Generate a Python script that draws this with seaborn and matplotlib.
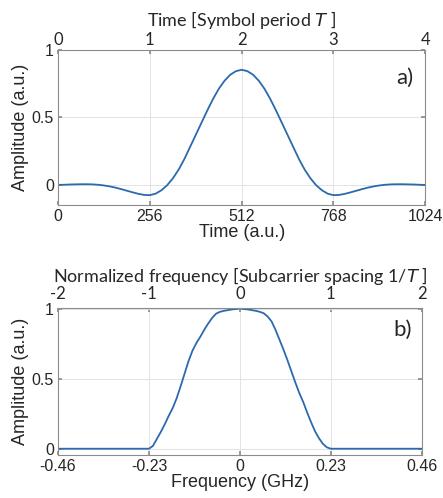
import numpy as np
import pandas as pd
import matplotlib
matplotlib.use("Agg")
import matplotlib.pyplot as plt
import seaborn as sns

# ---- data: panel a (time-domain pulse) ----
time_au = [0, 16, 32, 48, 64, 80, 96, 112, 128, 144, 160, 176, 192, 208, 224, 240,
           256, 272, 288, 304, 320, 336, 352, 368, 384, 400, 416, 432, 448, 464, 480, 496,
           512, 528, 544, 560, 576, 592, 608, 624, 640, 656, 672, 688, 704, 720, 736, 752,
           768, 784, 800, 816, 832, 848, 864, 880, 896, 912, 928, 944, 960, 976, 992, 1008, 1024]
amp_time = [0.000, 0.001, 0.003, 0.004, 0.005, 0.005, 0.004, 0.001, -0.004, -0.011, -0.020,
            -0.031, -0.043, -0.055, -0.066, -0.074, -0.076, -0.065, -0.040, -0.003, 0.048,
            0.112, 0.190, 0.280, 0.370, 0.460, 0.550, 0.635, 0.710, 0.770, 0.815, 0.842,
            0.852,
            0.842, 0.815, 0.770, 0.710, 0.635, 0.550, 0.460, 0.370, 0.280, 0.190, 0.112,
            0.048, -0.003, -0.040, -0.065, -0.076, -0.074, -0.066, -0.055, -0.043, -0.031,
            -0.020, -0.011, -0.004, 0.001, 0.004, 0.005, 0.005, 0.004, 0.003, 0.001, 0.000]

# ---- data: panel b (spectrum) ----
freq_ghz = [-0.46, -0.23, -0.22, -0.21, -0.20, -0.19, -0.18, -0.17, -0.16, -0.15, -0.14,
            -0.13, -0.12, -0.11, -0.10, -0.09, -0.08, -0.07, -0.06, -0.05, -0.04, -0.03,
            -0.02, -0.01, 0.00, 0.01, 0.02, 0.03, 0.04, 0.05, 0.06, 0.07, 0.08, 0.09, 0.10,
            0.11, 0.12, 0.13, 0.14, 0.15, 0.16, 0.17, 0.18, 0.19, 0.20, 0.21, 0.22, 0.23, 0.46]
amp_freq = [0.0, 0.0, 0.02, 0.07, 0.12, 0.175, 0.235, 0.29, 0.36, 0.445, 0.535,
            0.625, 0.70, 0.755, 0.80, 0.85, 0.895, 0.935, 0.965, 0.978, 0.985, 0.99,
            0.995, 0.998, 1.0, 0.998, 0.995, 0.99, 0.985, 0.978, 0.968, 0.945, 0.91, 0.85, 0.78,
            0.71, 0.635, 0.555, 0.475, 0.40, 0.335, 0.26, 0.19, 0.125, 0.075, 0.035, 0.01, 0.0, 0.0]

# ---- tick labels ----
time_ticks = [0, 256, 512, 768, 1024]
symbol_ticks = ["0", "1", "2", "3", "4"]
freq_ticks = [-0.46, -0.23, 0, 0.23, 0.46]
freq_ticklabels = ["-0.46", "-0.23", "0", "0.23", "0.46"]
norm_ticklabels = ["-2", "-1", "0", "1", "2"]
amp_ticks = [0, 0.5, 1]
amp_ticklabels = ["0", "0.5", "1"]

sns.set_theme(style="white")
plt.rcParams["font.family"] = ["Liberation Sans", "DejaVu Sans"]

LINE = "#2a6aad"
SPINE = "#8c8c8c"
TXT = "#262626"
CAL = ["Lato", "DejaVu Sans"]

fig = plt.figure(figsize=(4.43, 4.98), dpi=100)
axa = fig.add_axes([0.131, 0.588, 0.829, 0.312])
axb = fig.add_axes([0.131, 0.0863, 0.821, 0.2952])

dfa = pd.DataFrame({"t": time_au, "a": amp_time})
dfb = pd.DataFrame({"f": freq_ghz, "a": amp_freq})
sns.lineplot(data=dfa, x="t", y="a", ax=axa, color=LINE, linewidth=1.3)
sns.lineplot(data=dfb, x="f", y="a", ax=axb, color=LINE, linewidth=1.3)


def style(ax, xticks, xlabels, toplabels, xlim, ylim, xlabel, toptitle, tag, tagpos,
          toppad, titlepad):
    ax.set_xlim(*xlim)
    ax.set_ylim(*ylim)
    ax.set_xticks(xticks)
    ax.set_xticklabels(xlabels)
    ax.set_yticks(amp_ticks)
    ax.set_yticklabels(amp_ticklabels)
    ax.grid(True, color="#e3e3e3", linewidth=0.7)
    for s in ax.spines.values():
        s.set_color(SPINE)
        s.set_linewidth(0.8)
    ax.tick_params(axis="both", direction="in", length=3, color=SPINE,
                   labelsize=11.5, labelcolor=TXT, pad=3)
    ax.tick_params(axis="x", top=True, bottom=True)
    ax.tick_params(axis="y", left=True, right=True, pad=3)
    ax.set_xlabel(xlabel, fontsize=13, color=TXT, labelpad=0)
    ax.set_ylabel("Amplitude (a.u.)", fontsize=13, color=TXT, labelpad=2)
    top = ax.secondary_xaxis("top")
    top.set_xticks(xticks)
    top.set_xticklabels(toplabels, fontfamily=CAL)
    top.tick_params(direction="in", length=0, labelsize=12, labelcolor=TXT, pad=toppad)
    top.spines["top"].set_visible(False)
    top.set_xlabel(toptitle, fontsize=13, color=TXT, fontfamily=CAL, labelpad=titlepad)
    ax.text(tagpos[0], tagpos[1], tag, transform=ax.transAxes, ha="right", va="center",
            fontsize=16, color=TXT, fontfamily=CAL)


style(axa, time_ticks, [str(v) for v in time_ticks], symbol_ticks, (0, 1024), (-0.15, 1),
      "Time (a.u.)", r"Time [Symbol period $\mathit{T}$ ]", "a)", (0.968, 0.82), 1.5, 4)
style(axb, freq_ticks, freq_ticklabels, norm_ticklabels, (-0.46, 0.46), (-0.045, 1.005),
      "Frequency (GHz)", r"Normalized frequency [Subcarrier spacing 1/$\mathit{T}$ ]", "b)",
      (0.972, 0.85), 4, 3)

fig.savefig("out.png", dpi=100)
